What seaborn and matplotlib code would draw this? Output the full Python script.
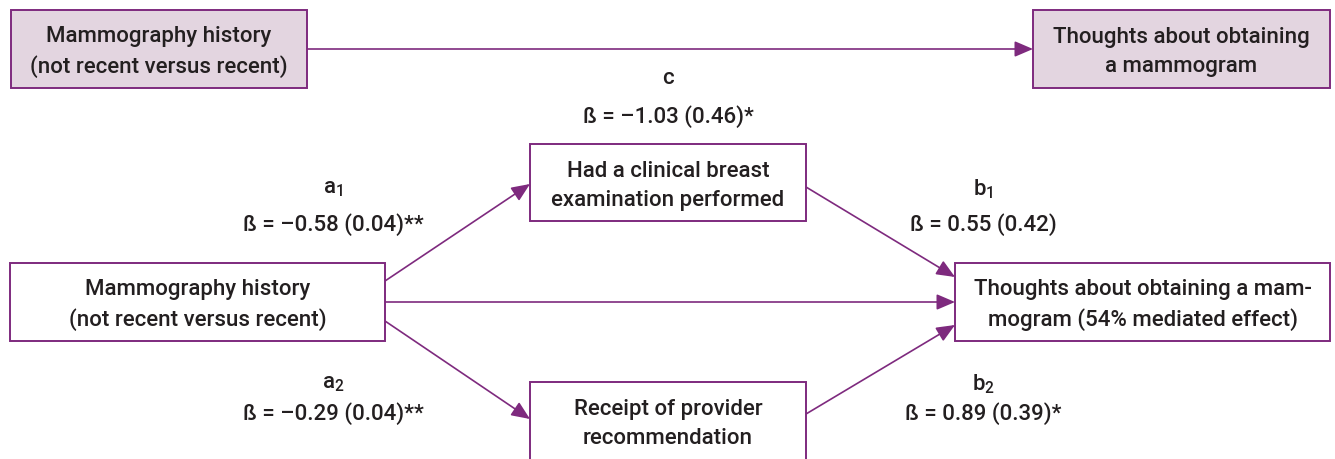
"""
Mediation diagram: mammography history -> thoughts about obtaining a mammogram
"""

import seaborn as sns
import matplotlib.pyplot as plt
from matplotlib.patches import Rectangle

# %% Data
node_names = ['x_top', 'y_top', 'm1', 'x', 'y', 'm2']
node_labels = ['Mammography history\n(not recent versus recent)',
               'Thoughts about obtaining\na mammogram',
               'Had a clinical breast\nexamination performed',
               'Mammography history\n(not recent versus recent)',
               'Thoughts about obtaining a mam-\nmogram (54% mediated effect)',
               'Receipt of provider\nrecommendation']
node_shaded = [True, True, False, False, False, False]

path_names = ['c', 'a1', 'b1', 'a2', 'b2']
path_symbols = [r'c', r'$\mathregular{a_1}$', r'$\mathregular{b_1}$',
                r'$\mathregular{a_2}$', r'$\mathregular{b_2}$']
path_betas = ['\u20131.03 (0.46)*', '\u20130.58 (0.04)**', '0.55 (0.42)',
              '\u20130.29 (0.04)**', '0.89 (0.39)*']

# %% Layout (pixel coordinates, y down)
box_pos = {
    'x_top': (11, 11, 296, 78),
    'y_top': (1033, 11, 297, 78),
    'm1': (530, 145, 276, 77),
    'x': (10, 264, 375, 78),
    'y': (955, 264, 375, 78),
    'm2': (530, 383, 276, 90),
}
label_pos = {
    'c': (668, 78, 117),
    'a1': (333, 189, 225),
    'b1': (983, 189, 225),
    'a2': (333, 384, 414),
    'b2': (983, 384, 414),
}
arrows = [
    ((307, 50), (1033, 50)),
    ((385, 282), (530, 185)),
    ((385, 303), (955, 303)),
    ((385, 322), (530, 420)),
    ((806, 188), (955, 278)),
    ((806, 415), (955, 326)),
]

purple = '#7E2A7E'
fill = '#E3D5E0'
text_col = '#231F20'

sns.set_theme(style='white')
plt.rcParams['font.family'] = ['Roboto', 'DejaVu Sans']
plt.rcParams['mathtext.fontset'] = 'custom'
plt.rcParams['mathtext.rm'] = 'Roboto:medium'
fs = 16

fig = plt.figure(figsize=(13.35, 4.6), dpi=100)
ax = fig.add_axes([0, 0, 1, 1])
ax.set_xlim(0, 1335)
ax.set_ylim(460, 0)
ax.axis('off')

# Boxes
for name, label, shaded in zip(node_names, node_labels, node_shaded):
    x0, y0, w, h = box_pos[name]
    ax.add_patch(Rectangle((x0, y0), w, h, facecolor=fill if shaded else 'white',
                           edgecolor=purple, lw=1.4, zorder=2))
    yc = y0 + 41
    ax.text(x0 + w / 2, yc, label, ha='center', va='center', fontsize=fs,
            color=text_col, linespacing=1.45, fontweight='medium', zorder=3)

# Arrows
for (x1, y1), (x2, y2) in arrows:
    ax.annotate('', xy=(x2, y2), xytext=(x1, y1),
                arrowprops=dict(arrowstyle='-|>,head_length=0.7,head_width=0.3',
                                color=purple, lw=1.2, shrinkA=0, shrinkB=0,
                                mutation_scale=16), zorder=1)

# Path coefficients
for name, sym, beta in zip(path_names, path_symbols, path_betas):
    xc, ys, yb = label_pos[name]
    ax.text(xc, ys, sym, ha='center', va='center', fontsize=fs,
            color=text_col, fontweight='medium')
    ax.text(xc, yb, '\u00df = ' + beta, ha='center', va='center', fontsize=fs,
            color=text_col, fontweight='medium')

plt.savefig('out.png', dpi=100)
